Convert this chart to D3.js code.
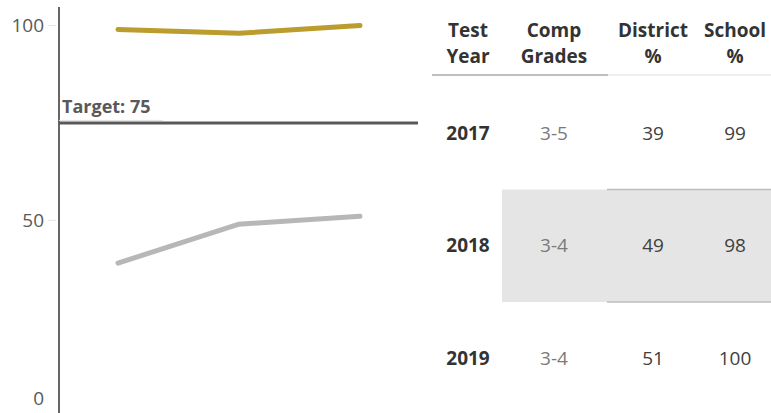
<!DOCTYPE html>
<html>
<head>
<meta charset="utf-8">
<script src="https://cdn.jsdelivr.net/npm/d3@7"></script>
<style>
  html, body { margin: 0; padding: 0; background: #fff; }
  svg { display: block; font-family: "Open Sans", sans-serif; }
</style>
</head>
<body>
<svg id="chart" width="771" height="413"></svg>
<script>
const years = [2017, 2018, 2019];
const compGrades = ["3-5", "3-4", "3-4"];
const districtPct = [39, 49, 51];
const schoolPct = [99, 98, 100];
const target = 75;
const yTicks = [0, 50, 100];
const headers = [["Test", "Year"], ["Comp", "Grades"], ["District", "%"], ["School", "%"]];

const svg = d3.select("#chart");

const x = d3.scalePoint().domain(years).range([118, 360]);
const y = d3.scaleLinear().domain([0, 100]).range([415, 25.5]);

// axis line
svg.append("line")
    .attr("x1", 59).attr("x2", 59)
    .attr("y1", 7).attr("y2", 413)
    .style("stroke", "#666").style("stroke-width", 2);

// ticks + labels (0 sits just below the window, so its label is nudged up)
const tk = svg.selectAll(".tick").data(yTicks).enter().append("g").attr("class", "tick");
tk.append("line")
    .attr("x1", 48).attr("x2", 56)
    .attr("y1", d => y(d)).attr("y2", d => y(d))
    .style("stroke", "#e6e6e6").style("stroke-width", 1);
tk.append("text")
    .attr("x", 44)
    .attr("y", d => Math.min(y(d), 398))
    .attr("dy", "0.35em")
    .attr("text-anchor", "end")
    .style("font-size", "19px")
    .style("fill", "#595959")
    .text(d => d);

// target line
svg.append("line")
    .attr("x1", 59).attr("x2", 418)
    .attr("y1", y(target)).attr("y2", y(target))
    .style("stroke", "#595959").style("stroke-width", 3);
svg.append("line")
    .attr("x1", 59).attr("x2", 163)
    .attr("y1", y(target) - 2.5).attr("y2", y(target) - 2.5)
    .style("stroke", "#e0e0e0").style("stroke-width", 1);
svg.append("text")
    .attr("x", 62).attr("y", y(target) - 10)
    .style("font-size", "18px").style("font-weight", "bold")
    .style("fill", "#595959")
    .text("Target: " + target);

const line = d3.line().x((d, i) => x(years[i])).y(d => y(d));

svg.append("path")
    .datum(districtPct)
    .attr("d", line)
    .style("fill", "none").style("stroke", "#b7b7b7")
    .style("stroke-width", 5).style("stroke-linecap", "round").style("stroke-linejoin", "round");

svg.append("path")
    .datum(schoolPct)
    .attr("d", line)
    .style("fill", "none").style("stroke", "#bb9c2c")
    .style("stroke-width", 5).style("stroke-linecap", "round").style("stroke-linejoin", "round");

// table
const colX = [468, 554, 653, 735];
const rowY = d3.scaleBand().domain(years).range([77, 414.5]);

// shaded middle row
svg.append("rect")
    .attr("x", 502).attr("y", rowY(2018))
    .attr("width", 771 - 502).attr("height", rowY.bandwidth())
    .style("fill", "#e5e5e5");
[rowY(2018), rowY(2018) + rowY.bandwidth()].forEach(yy => {
    svg.append("line")
        .attr("x1", 607).attr("x2", 771).attr("y1", yy).attr("y2", yy)
        .style("stroke", "#bdbdbd").style("stroke-width", 1.5);
});

// header
headers.forEach((h, i) => {
    h.forEach((t, j) => {
        svg.append("text")
            .attr("x", colX[i]).attr("y", 30.5 + j * 25.5)
            .attr("dy", "0.35em")
            .attr("text-anchor", "middle")
            .style("font-size", "19px").style("font-weight", "bold")
            .style("fill", "#333")
            .text(t);
    });
});
svg.append("line")
    .attr("x1", 432).attr("x2", 608).attr("y1", 75).attr("y2", 75)
    .style("stroke", "#aaa").style("stroke-width", 1.5);
svg.append("line")
    .attr("x1", 608).attr("x2", 771).attr("y1", 75).attr("y2", 75)
    .style("stroke", "#ddd").style("stroke-width", 1);

const rows = svg.selectAll(".row").data(years).enter().append("g")
    .attr("class", "row")
    .attr("transform", d => "translate(0," + (rowY(d) + rowY.bandwidth() / 2) + ")");

const cols = [
    {get: (d, i) => years[i], weight: "bold", fill: "#333"},
    {get: (d, i) => compGrades[i], weight: "normal", fill: "#7a7a7a"},
    {get: (d, i) => districtPct[i], weight: "normal", fill: "#404040"},
    {get: (d, i) => schoolPct[i], weight: "normal", fill: "#404040"}
];
cols.forEach((c, ci) => {
    rows.append("text")
        .attr("x", colX[ci])
        .attr("dy", "0.35em")
        .attr("text-anchor", "middle")
        .style("font-size", "19px")
        .style("font-weight", c.weight)
        .style("fill", c.fill)
        .text(c.get);
});
</script>
</body>
</html>
